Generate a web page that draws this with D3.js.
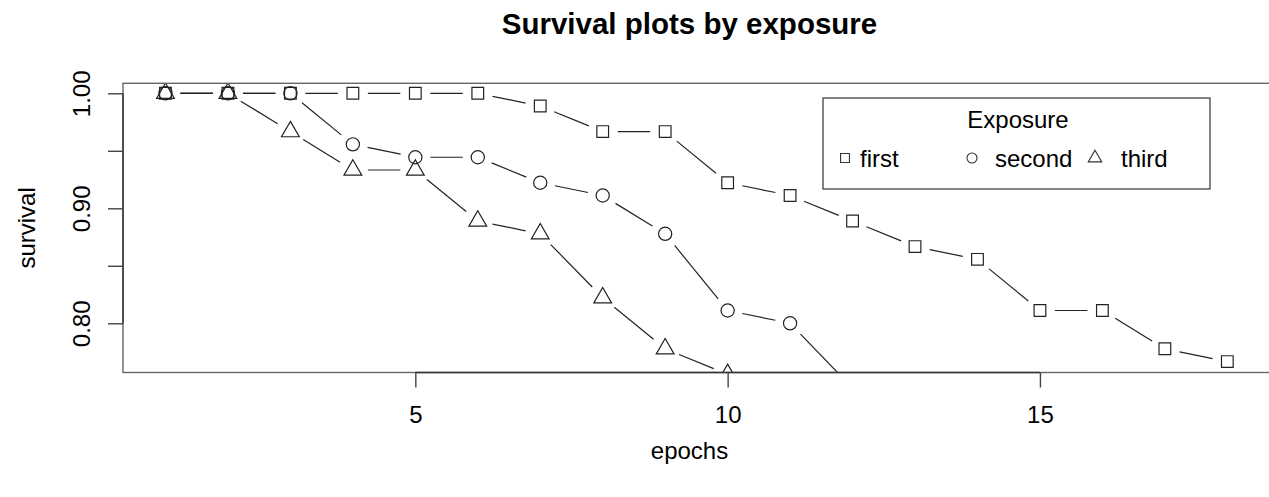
<!DOCTYPE html>
<html>
<head>
<meta charset="utf-8">
<script src="https://cdn.jsdelivr.net/npm/d3@7"></script>
<style>
  html, body { margin: 0; padding: 0; background: #fff; }
  svg text { font-family: "Liberation Sans", Arial, Helvetica, sans-serif; fill: #000; }
</style>
</head>
<body>
<svg id="chart" width="1269" height="497"></svg>
<script>
// Survival proportion per epoch for each exposure group
const epochs = d3.range(1, 19);
const firstExposure  = [1, 1, 1, 1, 1, 1, 0.9889, 0.9667, 0.9667, 0.9222, 0.9111, 0.8889, 0.8667, 0.8556, 0.8111, 0.8111, 0.7778, 0.7667];
const secondExposure = [1, 1, 1, 0.9556, 0.9444, 0.9444, 0.9222, 0.9111, 0.8778, 0.8111, 0.8000, 0.7437];
const thirdExposure  = [1, 1, 0.9667, 0.9333, 0.9333, 0.8889, 0.8778, 0.8222, 0.7778, 0.7556];

const seriesNames = ["first", "second", "third"];
const seriesSymbols = ["square", "circle", "triangle"];
const xTicks = [5, 10, 15];
const yTicks = [0.80, 0.85, 0.90, 0.95, 1.00];
const yTickLabels = ["0.80", "", "0.90", "", "1.00"];

const series = [firstExposure, secondExposure, thirdExposure].map((vals, i) => ({
  name: seriesNames[i],
  symbol: seriesSymbols[i],
  points: vals.map((v, j) => ({ x: epochs[j], y: v }))
}));

const svg = d3.select("#chart");
const plot = { left: 123, right: 1269.8, top: 83.3, bottom: 372.5 };

const x = d3.scaleLinear().domain([0.32, 18.68]).range([plot.left, plot.right]);
const y = d3.scaleLinear().domain([0.7572, 1.0087]).range([plot.bottom, plot.top]);

const ink = "#222";
const baseFont = 24;

// symbol paths in the style of R plotting characters 0, 1, 2
function symbolPath(kind, cx, cy, R) {
  const p = d3.path();
  if (kind === "square") {
    const h = 0.88622 * R;
    p.rect(cx - h, cy - h, 2 * h, 2 * h);
  } else if (kind === "circle") {
    p.moveTo(cx + R, cy);
    p.arc(cx, cy, R, 0, 2 * Math.PI);
  } else {
    const r = 1.5551 * R, xc = 1.3468 * R, yc = 0.7776 * R;
    p.moveTo(cx, cy - r);
    p.lineTo(cx + xc, cy + yc);
    p.lineTo(cx - xc, cy + yc);
    p.closePath();
  }
  return p.toString();
}

// clip region = plot box
svg.append("defs").append("clipPath").attr("id", "plotClip")
  .append("rect")
  .attr("x", plot.left).attr("y", plot.top)
  .attr("width", plot.right - plot.left).attr("height", plot.bottom - plot.top);

const dataG = svg.append("g").attr("clip-path", "url(#plotClip)");

const gap = 15;
const R = 6.6;

series.forEach(s => {
  const pts = s.points.map(d => [x(d.x), y(d.y)]);
  const g = dataG.append("g");
  // connecting segments, pulled back from each point
  d3.pairs(pts).forEach(([a, b]) => {
    const dx = b[0] - a[0], dy = b[1] - a[1];
    const len = Math.hypot(dx, dy);
    if (len <= 2 * gap) return;
    const ux = dx / len, uy = dy / len;
    g.append("line")
      .attr("x1", a[0] + ux * gap).attr("y1", a[1] + uy * gap)
      .attr("x2", b[0] - ux * gap).attr("y2", b[1] - uy * gap)
      .attr("stroke", ink).attr("stroke-width", 1.2);
  });
  g.selectAll("path.pt").data(s.points).join("path")
    .attr("class", "pt")
    .attr("d", d => symbolPath(s.symbol, x(d.x), y(d.y), R))
    .attr("fill", "none").attr("stroke", ink).attr("stroke-width", 1.2);
});

// plot frame
svg.append("rect")
  .attr("x", plot.left).attr("y", plot.top)
  .attr("width", plot.right - plot.left).attr("height", plot.bottom - plot.top)
  .attr("fill", "none").attr("stroke", "#666").attr("stroke-width", 1.4);

// x axis
const xAxis = svg.append("g").attr("transform", `translate(0,${plot.bottom})`)
  .call(d3.axisBottom(x).tickValues(xTicks).tickSize(15).tickSizeOuter(0).tickPadding(18));
xAxis.select(".domain").attr("stroke", "#333").attr("stroke-width", 1.4)
  .attr("d", `M${x(xTicks[0])},0H${x(xTicks[xTicks.length - 1])}`);
xAxis.selectAll(".tick line").attr("stroke", "#444").attr("stroke-width", 1.4);
xAxis.selectAll(".tick text").attr("font-size", baseFont).attr("font-family", null);

// y axis with rotated labels
const yAxis = svg.append("g").attr("transform", `translate(${plot.left},0)`)
  .call(d3.axisLeft(y).tickValues(yTicks).tickSize(15).tickSizeOuter(0)
    .tickFormat((d, i) => yTickLabels[i]));
yAxis.select(".domain").attr("stroke", "#333").attr("stroke-width", 1.4)
  .attr("d", `M0,${y(yTicks[0])}V${y(yTicks[yTicks.length - 1])}`);
yAxis.selectAll(".tick line").attr("stroke", "#444").attr("stroke-width", 1.4);
yAxis.selectAll(".tick text")
  .attr("font-size", baseFont).attr("font-family", null)
  .attr("x", null).attr("dy", null)
  .attr("text-anchor", "middle")
  .attr("transform", "translate(-33,0) rotate(-90)");

// titles
svg.append("text")
  .attr("x", (plot.left + 1256) / 2).attr("y", 34)
  .attr("text-anchor", "middle").attr("font-weight", "bold").attr("font-size", 29.5)
  .text("Survival plots by exposure");
svg.append("text")
  .attr("x", (plot.left + 1256) / 2).attr("y", 459)
  .attr("text-anchor", "middle").attr("font-size", baseFont)
  .text("epochs");
svg.append("text")
  .attr("transform", `translate(35,${(plot.top + plot.bottom) / 2}) rotate(-90)`)
  .attr("text-anchor", "middle").attr("font-size", baseFont)
  .text("survival");

// legend
const legend = svg.append("g");
legend.append("rect")
  .attr("x", 823).attr("y", 98).attr("width", 387).attr("height", 91)
  .attr("fill", "#fff").attr("stroke", "#333").attr("stroke-width", 1.2);
legend.append("text")
  .attr("x", 1018).attr("y", 128).attr("text-anchor", "middle").attr("font-size", baseFont)
  .text("Exposure");
const legendSymX = [845, 972, 1095];
const legendTextX = [860, 995, 1121];
series.forEach((s, i) => {
  legend.append("path")
    .attr("d", symbolPath(s.symbol, legendSymX[i], 158, 5))
    .attr("fill", "none").attr("stroke", "#333").attr("stroke-width", 1.1);
  legend.append("text")
    .attr("x", legendTextX[i]).attr("y", 167).attr("font-size", baseFont)
    .text(s.name);
});
</script>
</body>
</html>
